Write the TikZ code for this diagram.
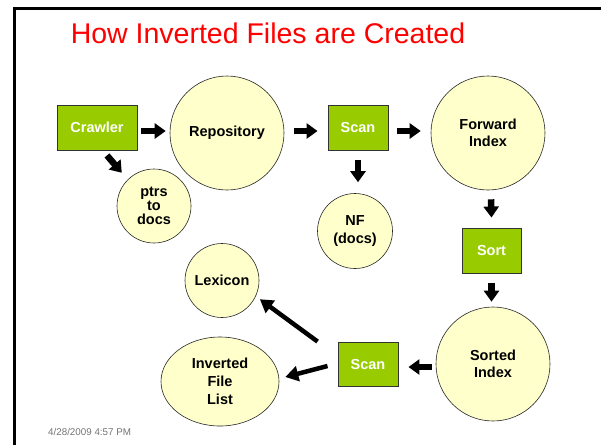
\documentclass[tikz,border=0pt]{standalone}
\usepackage{fontspec}
\setmainfont{Liberation Sans}
\usetikzlibrary{arrows.meta,shapes.geometric}
\definecolor{boxgreen}{HTML}{99CC00}
\definecolor{bubble}{HTML}{FFFFCC}

\begin{document}
\begin{tikzpicture}[x=1pt,y=-1pt,
  stage/.style={draw=black!80, line width=0.9pt, fill=boxgreen, inner sep=0pt,
    minimum height=45pt, text=white, font=\bfseries\fontsize{14.5}{17}\selectfont},
  store/.style={circle, draw=black!85, line width=0.6pt, fill=bubble, inner sep=0pt,
    align=center, font=\bfseries\fontsize{14.5}{17.5}\selectfont},
  flow/.style={line width=6.5pt, -{Triangle[length=11pt,width=15pt]}},
  thinflow/.style={line width=4.5pt, -{Triangle[length=13pt,width=15pt]}}]

\useasboundingbox (0,0) rectangle (601,445);

% slide frame
\draw[line width=3pt] (14.5,445) -- (14.5,8.5) -- (601,8.5);

% title
\node[text=red, font=\fontsize{28.5}{34}\selectfont, anchor=base, inner sep=0pt]
  (title) at (268,43) {How Inverted Files are Created};

% process steps
\node[stage, minimum width=80pt] (crawler) at (97,127.5) {Crawler};
\node[stage, minimum width=60pt] (scana) at (358,127.5) {Scan};
\node[stage, minimum width=59pt] (sort) at (491.5,250.5) {Sort};
\node[stage, minimum width=60pt, minimum height=44pt] (scanb) at (368,364) {Scan};

% data stores
\node[store, minimum size=114pt] (repo) at (227,133) {Repository};
\node[store, minimum size=74pt, font=\bfseries\fontsize{14.5}{14}\selectfont]
  (ptrs) at (154,206) {ptrs\\to\\docs};
\node[store, minimum size=114pt] (fwd) at (488,133) {Forward\\Index};
\node[store, minimum size=75pt] (nf) at (355,231) {NF\\(docs)};
\node[store, minimum size=114pt] (sorted) at (493,364) {Sorted\\Index};
\node[store, minimum size=74pt] (lexicon) at (222,280.5) {Lexicon};
\node[store, ellipse, minimum width=118pt, minimum height=89pt, font=\bfseries\fontsize{14.5}{18}\selectfont]
  (inv) at (220,381.5) {Inverted\\File\\List};

% date stamp
\node[text=black!55, font=\fontsize{9.8}{11}\selectfont, anchor=west, inner sep=0pt]
  (date) at (48,432) {4/28/2009 4:57 PM};

% flow arrows
\draw[flow] ([xshift=4pt,yshift=-3.5pt]crawler.east) -- ([xshift=-4pt,yshift=2pt]repo.west);
\draw[flow] ([xshift=10pt,yshift=2pt]repo.east) -- ([xshift=-10pt,yshift=-3.5pt]scana.west);
\draw[flow] ([xshift=9pt,yshift=-3.5pt]scana.east) -- ([xshift=-10pt,yshift=2pt]fwd.west);
\draw[flow, shorten >=9pt] ([xshift=10pt,yshift=-5pt]crawler.south) -- (ptrs.135);
\draw[flow] ([yshift=-10pt]scana.south) -- ([xshift=3pt,yshift=11pt]nf.north);
\draw[flow] ([xshift=3pt,yshift=-9pt]fwd.south) -- ([yshift=10pt]sort.north);
\draw[flow] ([yshift=-10pt]sort.south) -- ([xshift=-1.5pt,yshift=5pt]sorted.north);
\draw[flow] ([xshift=-4pt,yshift=-3pt]sorted.west) -- ([xshift=10pt,yshift=-3pt]scanb.east);
\draw[thinflow] ([xshift=-10pt,yshift=-2pt]scanb.west) -- ([xshift=6pt,yshift=4.5pt]inv.east);
\draw[thinflow, shorten >=5pt] ([xshift=-20pt]scanb.north west) -- (lexicon.-25);

\end{tikzpicture}
\end{document}
